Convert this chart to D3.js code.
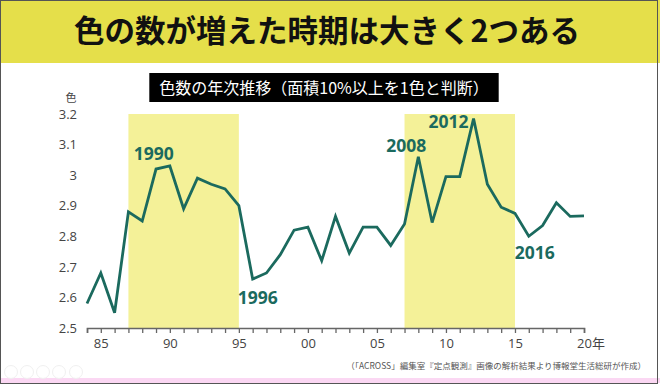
<!DOCTYPE html>
<html><head><meta charset="utf-8">
<script src="https://cdn.jsdelivr.net/npm/d3@7"></script>
<style>
html,body{margin:0;padding:0;background:#fff;}
svg{display:block;}
</style></head>
<body>
<svg id="chart" width="660" height="385"></svg>
<script>
const title = "色の数が増えた時期は大きく2つある";
const subtitle = "色数の年次推移（面積10%以上を1色と判断）";
const yUnit = "色";
const xUnit = "年";
const source = "（「ACROSS」編集室『定点観測』画像の解析結果より博報堂生活総研が作成）";
const years = [1984,1985,1986,1987,1988,1989,1990,1991,1992,1993,1994,1995,1996,1997,1998,1999,2000,2001,2002,2003,2004,2005,2006,2007,2008,2009,2010,2011,2012,2013,2014,2015,2016,2017,2018,2019,2020];
const colors = [2.58,2.68,2.55,2.88,2.85,3.02,3.03,2.89,2.99,2.97,2.955,2.90,2.66,2.68,2.74,2.82,2.83,2.72,2.865,2.745,2.83,2.83,2.77,2.84,3.06,2.845,2.995,2.995,3.185,2.97,2.895,2.875,2.80,2.835,2.91,2.865,2.867];
const yTicks = [2.5,2.6,2.7,2.8,2.9,3,3.1,3.2];
const xTickLabels = [1985,1990,1995,2000,2005,2010,2015,2020];
const periods = [[1987,1995],[2007,2015]];
const annotations = [
  {year:1990, text:"1990", dx:-36, dy:-6},
  {year:1996, text:"1996", dx:-15, dy:25},
  {year:2008, text:"2008", dx:-32, dy:-5},
  {year:2012, text:"2012", dx:-45, dy:9},
  {year:2016, text:"2016", dx:-14, dy:23}
];

const svg = d3.select("#chart");
const W = 660, H = 385;
const teal = "#1b6a5e";

svg.append("rect").attr("x",0).attr("y",0).attr("width",W).attr("height",H).attr("fill","#fff");
svg.append("rect").attr("x",0).attr("y",0).attr("width",W).attr("height",63).attr("fill","#e5df4a");
svg.append("text").attr("x",327).attr("y",42).attr("text-anchor","middle")
  .attr("font-family","'Noto Sans CJK JP'").attr("font-weight","bold").attr("font-size",30.5)
  .attr("fill","#111").text(title);

const subBox = svg.append("rect").attr("fill","#000");
const sub = svg.append("text").attr("x",324).attr("y",94).attr("text-anchor","middle")
  .attr("font-family","'Noto Sans CJK JP'").attr("font-size",16).attr("fill","#fff").text(subtitle);
const bb = sub.node().getBBox();
subBox.attr("x",bb.x-10).attr("y",73).attr("width",bb.width+20).attr("height",29);

const x = d3.scaleLinear().domain([1984,2020]).range([87,584]);
const y = d3.scaleLinear().domain([2.5,3.2]).range([328,114]);

svg.append("g").selectAll("rect").data(periods).join("rect")
  .attr("x",d=>x(d[0])).attr("width",d=>x(d[1])-x(d[0]))
  .attr("y",y(3.2)).attr("height",y(2.5)-y(3.2)).attr("fill","#f4f198");

const yAxis = d3.axisLeft(y).tickValues(yTicks).tickSize(0).tickPadding(0).tickFormat(d=>d3.format("")(d));
const gy = svg.append("g").attr("transform","translate(77,0)").call(yAxis);
gy.select(".domain").remove();
gy.selectAll("text").attr("font-family","'Open Sans'").attr("font-size",13).attr("fill","#444");
svg.append("text").attr("x",71).attr("y",102).attr("text-anchor","middle")
  .attr("font-family","'Noto Sans CJK JP'").attr("font-size",11).attr("fill","#444").text(yUnit);

const xAxis = d3.axisBottom(x).tickValues(years).tickSize(5).tickPadding(6)
  .tickFormat(d=> xTickLabels.includes(d) ? String(d%100).padStart(2,"0") : "");
const gx = svg.append("g").attr("transform",`translate(0,${y(2.5)})`).call(xAxis);
gx.select(".domain").attr("stroke","#666").attr("stroke-width",1.6);
gx.selectAll(".tick line").attr("stroke","#666").attr("stroke-width",1.3);
gx.selectAll("text").attr("font-family","'Open Sans'").attr("font-size",13).attr("fill","#444");
svg.append("text").attr("x",x(2020)+8).attr("y",y(2.5)+20)
  .attr("font-family","'Noto Sans CJK JP'").attr("font-size",13).attr("fill","#444").text(xUnit);

const data = years.map((yr,i)=>({yr, v:colors[i]}));
svg.append("path").datum(data)
  .attr("fill","none").attr("stroke",teal).attr("stroke-width",2.8).attr("stroke-linejoin","miter")
  .attr("d", d3.line().x(d=>x(d.yr)).y(d=>y(d.v)));

svg.append("g").selectAll("text").data(annotations).join("text")
  .attr("x",d=>x(d.year)+d.dx).attr("y",d=>y(colors[years.indexOf(d.year)])+d.dy)
  .attr("font-family","'Open Sans'").attr("font-weight","bold").attr("font-size",17.5)
  .attr("fill",teal).text(d=>d.text);

svg.append("text").attr("x",646).attr("y",369).attr("text-anchor","end")
  .attr("font-family","'Noto Sans CJK JP'").attr("font-size",8.5).attr("fill","#555").text(source);

svg.append("rect").attr("x",0).attr("y",378).attr("width",W).attr("height",5).attr("fill","#fbd7f3");
svg.append("g").selectAll("circle").data([11,27,43,59,76]).join("circle")
  .attr("cx",d=>d).attr("cy",372).attr("r",6.5).attr("fill","none").attr("stroke","#f0f0f0").attr("stroke-width",1);
svg.append("rect").attr("x",0.5).attr("y",0.5).attr("width",657).attr("height",383).attr("fill","none").attr("stroke","#555").attr("stroke-width",1);
</script>
</body></html>
